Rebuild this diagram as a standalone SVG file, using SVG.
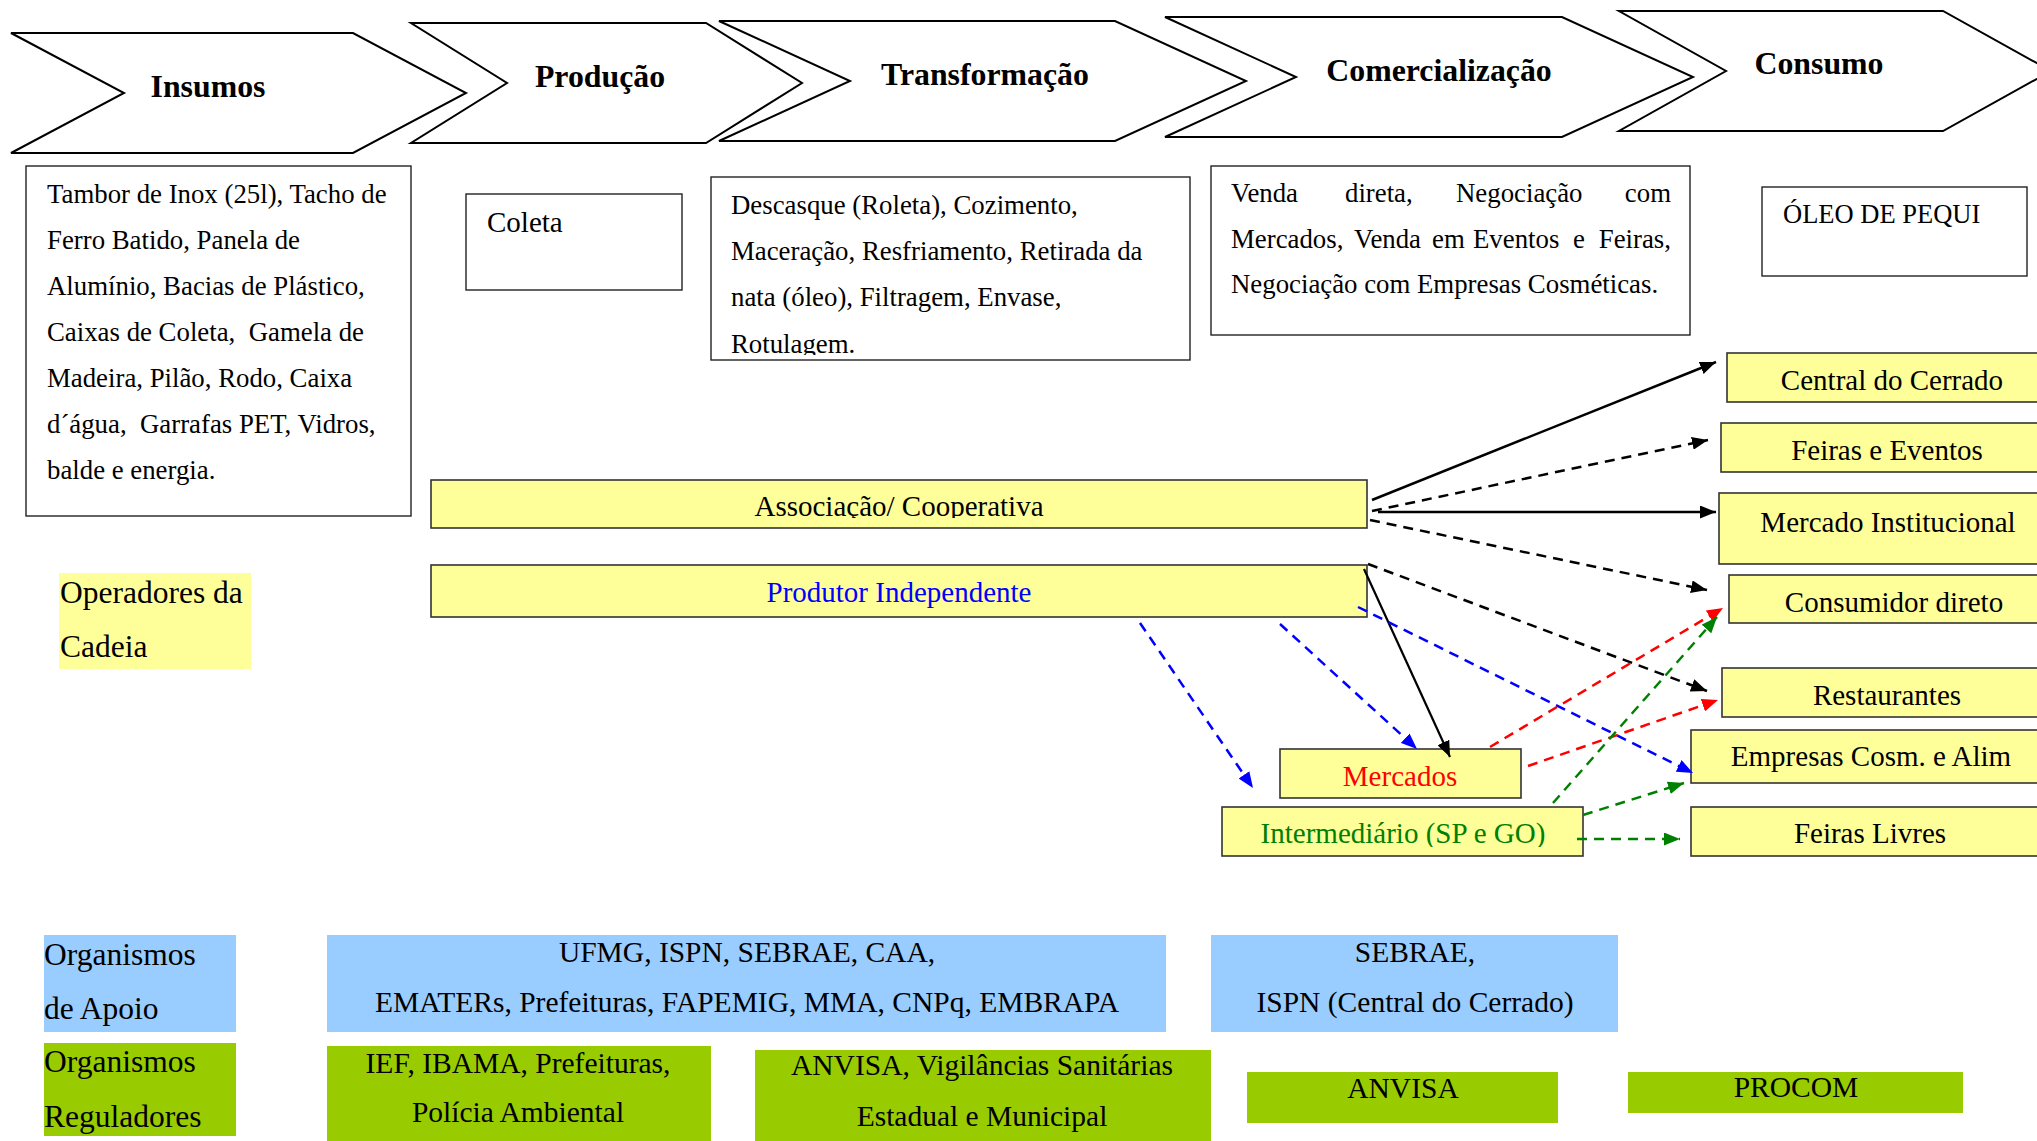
<svg xmlns="http://www.w3.org/2000/svg" width="2037" height="1141" viewBox="0 0 2037 1141">
  <style>
    text { font-family: "Liberation Serif", "Times New Roman", serif; fill: #000; }
    .stage { fill: #fff; stroke: #000; stroke-width: 2; stroke-linejoin: miter; }
    .stage-label { font-size: 31.8px; font-weight: bold; text-anchor: middle; }
    .note { fill: #fff; stroke: #222; stroke-width: 1.4; }
    .note-text { font-size: 26.8px; }
    .op { fill: #FFFF99; stroke: #333; stroke-width: 1.6; }
    .op-text { font-size: 29px; text-anchor: middle; }
    .side { font-size: 31.5px; }
    .apoio { fill: #99CCFF; }
    .regul { fill: #99CC00; }
    .org-text { font-size: 29.5px; text-anchor: middle; }
    .flow { fill: none; stroke-width: 2.5; }
    .dash { stroke-dasharray: 10 7; }
    .k { stroke: #000; }
    .b { stroke: #0000FF; }
    .r { stroke: #FF0000; }
    .g { stroke: #008000; }
  </style>
  <defs>
    <marker id="ah-k" markerUnits="userSpaceOnUse" markerWidth="17" markerHeight="13" refX="16" refY="6.5" orient="auto">
      <path d="M0,0 L16,6.5 L0,13 z" fill="#000"/>
    </marker>
    <marker id="ah-b" markerUnits="userSpaceOnUse" markerWidth="17" markerHeight="13" refX="16" refY="6.5" orient="auto">
      <path d="M0,0 L16,6.5 L0,13 z" fill="#0000FF"/>
    </marker>
    <marker id="ah-r" markerUnits="userSpaceOnUse" markerWidth="17" markerHeight="13" refX="16" refY="6.5" orient="auto">
      <path d="M0,0 L16,6.5 L0,13 z" fill="#FF0000"/>
    </marker>
    <marker id="ah-g" markerUnits="userSpaceOnUse" markerWidth="17" markerHeight="13" refX="16" refY="6.5" orient="auto">
      <path d="M0,0 L16,6.5 L0,13 z" fill="#008000"/>
    </marker>
    <clipPath id="clip-transf"><rect x="711" y="177" width="479" height="178"/></clipPath>
    <clipPath id="clip-assoc"><rect x="431" y="480" width="936" height="38"/></clipPath>
    <clipPath id="clip-inter"><rect x="1222" y="807" width="361" height="40"/></clipPath>
  </defs>

  <!-- chain stages (chevrons) -->
  <g id="stage-insumos">
    <polygon class="stage" points="11,33 353,33 466,93 353,153 11,153 124,93"/>
    <text class="stage-label" x="208" y="97">Insumos</text>
  </g>
  <g id="stage-producao">
    <polygon class="stage" points="411,23 706,23 802,83 706,143 411,143 507,83"/>
    <text class="stage-label" x="600" y="87">Produção</text>
  </g>
  <g id="stage-transformacao">
    <polygon class="stage" points="719,21 1115,21 1246,81 1115,141 719,141 850,81"/>
    <text class="stage-label" x="985" y="85">Transformação</text>
  </g>
  <g id="stage-comercializacao">
    <polygon class="stage" points="1165,17 1562,17 1693,77 1562,137 1165,137 1296,77"/>
    <text class="stage-label" x="1439" y="81">Comercialização</text>
  </g>
  <g id="stage-consumo">
    <polygon class="stage" points="1619,11 1943,11 2051,71 1943,131 1619,131 1726,71"/>
    <text class="stage-label" x="1819" y="74">Consumo</text>
  </g>

  <!-- stage descriptions -->
  <g id="desc-insumos">
    <rect class="note" x="26" y="166" width="385" height="350"/>
    <text class="note-text" xml:space="preserve">
      <tspan x="47" y="203">Tambor de Inox (25l), Tacho de</tspan>
      <tspan x="47" y="249">Ferro Batido, Panela de</tspan>
      <tspan x="47" y="295">Alumínio, Bacias de Plástico,</tspan>
      <tspan x="47" y="341">Caixas de Coleta,  Gamela de</tspan>
      <tspan x="47" y="387">Madeira, Pilão, Rodo, Caixa</tspan>
      <tspan x="47" y="433">d´água,  Garrafas PET, Vidros,</tspan>
      <tspan x="47" y="479">balde e energia.</tspan>
    </text>
  </g>
  <g id="desc-producao">
    <rect class="note" x="466" y="194" width="216" height="96"/>
    <text x="487" y="232" font-size="29">Coleta</text>
  </g>
  <g id="desc-transformacao">
    <rect class="note" x="711" y="177" width="479" height="183"/>
    <text class="note-text" clip-path="url(#clip-transf)">
      <tspan x="731" y="214">Descasque (Roleta), Cozimento,</tspan>
      <tspan x="731" y="260">Maceração, Resfriamento, Retirada da</tspan>
      <tspan x="731" y="306">nata (óleo), Filtragem, Envase,</tspan>
      <tspan x="731" y="353">Rotulagem.</tspan>
    </text>
  </g>
  <g id="desc-comercializacao">
    <rect class="note" x="1211" y="166" width="479" height="169"/>
    <!-- justified lines: each word placed on its own -->
    <text class="note-text">
      <tspan x="1231" y="202">Venda</tspan>
      <tspan x="1345" y="202">direta,</tspan>
      <tspan x="1456" y="202">Negociação</tspan>
      <tspan x="1671" y="202" text-anchor="end">com</tspan>
    </text>
    <text class="note-text">
      <tspan x="1231" y="248">Mercados,</tspan>
      <tspan x="1354" y="248">Venda</tspan>
      <tspan x="1432" y="248">em</tspan>
      <tspan x="1473" y="248">Eventos</tspan>
      <tspan x="1573" y="248">e</tspan>
      <tspan x="1671" y="248" text-anchor="end">Feiras,</tspan>
    </text>
    <text class="note-text" x="1231" y="293">Negociação com Empresas Cosméticas.</text>
  </g>
  <g id="desc-consumo">
    <rect class="note" x="1762" y="187" width="265" height="89"/>
    <text x="1783" y="223" font-size="26.5">ÓLEO DE PEQUI</text>
  </g>

  <!-- chain operators -->
  <g id="label-operadores">
    <rect x="59" y="573" width="192" height="96" fill="#FFFF99"/>
    <text class="side"><tspan x="60" y="603">Operadores da</tspan><tspan x="60" y="657">Cadeia</tspan></text>
  </g>
  <g id="op-associacao">
    <rect class="op" x="431" y="480" width="936" height="48"/>
    <text class="op-text" x="899" y="516" clip-path="url(#clip-assoc)">Associação/ Cooperativa</text>
  </g>
  <g id="op-produtor">
    <rect class="op" x="431" y="565" width="936" height="52"/>
    <text class="op-text" x="899" y="602" style="fill:#0000FF">Produtor Independente</text>
  </g>
  <g id="op-mercados">
    <rect class="op" x="1280" y="749" width="241" height="49"/>
    <text class="op-text" x="1400" y="786" style="fill:#FF0000">Mercados</text>
  </g>
  <g id="op-intermediario">
    <rect class="op" x="1222" y="807" width="361" height="49"/>
    <text class="op-text" x="1403" y="843" style="fill:#008000" clip-path="url(#clip-inter)">Intermediário (SP e GO)</text>
  </g>

  <!-- destinations -->
  <g id="dest-central">
    <rect class="op" x="1727" y="353" width="320" height="49"/>
    <text class="op-text" x="1892" y="390">Central do Cerrado</text>
  </g>
  <g id="dest-feiras-eventos">
    <rect class="op" x="1721" y="423" width="326" height="49"/>
    <text class="op-text" x="1887" y="460">Feiras e Eventos</text>
  </g>
  <g id="dest-mercado-institucional">
    <rect class="op" x="1719" y="493" width="328" height="71"/>
    <text class="op-text" x="1888" y="532">Mercado Institucional</text>
  </g>
  <g id="dest-consumidor">
    <rect class="op" x="1729" y="575" width="318" height="48"/>
    <text class="op-text" x="1894" y="612">Consumidor direto</text>
  </g>
  <g id="dest-restaurantes">
    <rect class="op" x="1722" y="668" width="325" height="49"/>
    <text class="op-text" x="1887" y="705">Restaurantes</text>
  </g>
  <g id="dest-empresas">
    <rect class="op" x="1691" y="730" width="356" height="53"/>
    <text class="op-text" x="1871" y="766" font-size="29.3">Empresas Cosm. e Alim</text>
  </g>
  <g id="dest-feiras-livres">
    <rect class="op" x="1691" y="807" width="356" height="49"/>
    <text class="op-text" x="1870" y="843">Feiras Livres</text>
  </g>

  <!-- flows between operators and destinations -->
  <g id="connectors">
    <line class="flow k" x1="1372" y1="500" x2="1716" y2="362" marker-end="url(#ah-k)"/>
    <line class="flow k dash" x1="1372" y1="511" x2="1708" y2="440" marker-end="url(#ah-k)"/>
    <line class="flow k" x1="1378" y1="512" x2="1716" y2="512" marker-end="url(#ah-k)"/>
    <line class="flow k dash" x1="1370" y1="520" x2="1707" y2="590" marker-end="url(#ah-k)"/>
    <line class="flow k dash" x1="1368" y1="564" x2="1707" y2="691" marker-end="url(#ah-k)"/>
    <line class="flow k" style="stroke-width:2.2" x1="1364" y1="569" x2="1450" y2="757" marker-end="url(#ah-k)"/>
    <line class="flow b dash" x1="1358" y1="607" x2="1693" y2="773" marker-end="url(#ah-b)"/>
    <line class="flow b dash" x1="1280" y1="624" x2="1417" y2="749" marker-end="url(#ah-b)"/>
    <line class="flow b dash" x1="1140" y1="623" x2="1253" y2="788" marker-end="url(#ah-b)"/>
    <line class="flow r dash" x1="1490" y1="747" x2="1723" y2="608" marker-end="url(#ah-r)"/>
    <line class="flow r dash" x1="1528" y1="766" x2="1718" y2="700" marker-end="url(#ah-r)"/>
    <line class="flow g dash" x1="1553" y1="803" x2="1717" y2="617" marker-end="url(#ah-g)"/>
    <line class="flow g dash" x1="1583" y1="815" x2="1684" y2="783" marker-end="url(#ah-g)"/>
    <line class="flow g dash" x1="1577" y1="839" x2="1680" y2="839" marker-end="url(#ah-g)"/>
  </g>

  <!-- support organisations -->
  <g id="label-apoio">
    <rect class="apoio" x="44" y="935" width="192" height="97"/>
    <text class="side"><tspan x="44" y="965">Organismos</tspan><tspan x="44" y="1019">de Apoio</tspan></text>
  </g>
  <g id="apoio-producao">
    <rect class="apoio" x="327" y="935" width="839" height="97"/>
    <text class="org-text"><tspan x="747" y="962">UFMG, ISPN, SEBRAE, CAA,</tspan><tspan x="747" y="1012">EMATERs, Prefeituras, FAPEMIG, MMA, CNPq, EMBRAPA</tspan></text>
  </g>
  <g id="apoio-comercializacao">
    <rect class="apoio" x="1211" y="935" width="407" height="97"/>
    <text class="org-text"><tspan x="1415" y="962">SEBRAE,</tspan><tspan x="1415" y="1012">ISPN (Central do Cerrado)</tspan></text>
  </g>

  <!-- regulatory organisations -->
  <g id="label-reguladores">
    <rect class="regul" x="44" y="1043" width="192" height="93"/>
    <text class="side"><tspan x="44" y="1072">Organismos</tspan><tspan x="44" y="1127">Reguladores</tspan></text>
  </g>
  <g id="regul-producao">
    <rect class="regul" x="327" y="1046" width="384" height="100"/>
    <text class="org-text"><tspan x="518" y="1073">IEF, IBAMA, Prefeituras,</tspan><tspan x="518" y="1122">Polícia Ambiental</tspan></text>
  </g>
  <g id="regul-transformacao">
    <rect class="regul" x="755" y="1050" width="456" height="96"/>
    <text class="org-text"><tspan x="982" y="1075">ANVISA, Vigilâncias Sanitárias</tspan><tspan x="982" y="1126">Estadual e Municipal</tspan></text>
  </g>
  <g id="regul-comercializacao">
    <rect class="regul" x="1247" y="1072" width="311" height="51"/>
    <text class="org-text" x="1403" y="1098">ANVISA</text>
  </g>
  <g id="regul-consumo">
    <rect class="regul" x="1628" y="1072" width="335" height="41"/>
    <text class="org-text" x="1796" y="1097">PROCOM</text>
  </g>
</svg>
